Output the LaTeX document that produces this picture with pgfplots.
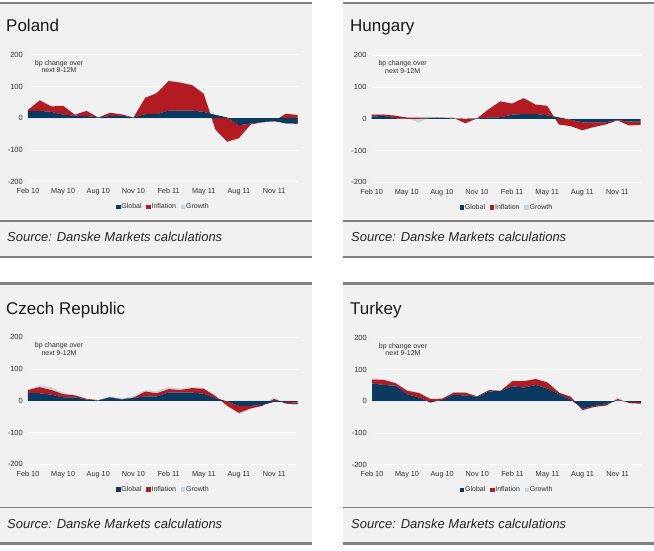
\documentclass[border=0pt]{standalone}
\usepackage{pgfplots}
\pgfplotsset{compat=1.18}
\usepackage{pgfplotstable}
\usepackage{fontspec}
\setmainfont{Liberation Sans}
\definecolor{navy}{HTML}{0A3A60}
\definecolor{dred}{HTML}{B31B22}
\definecolor{grow}{HTML}{C6D3E1}
\definecolor{panelbg}{HTML}{F1F1F1}
\definecolor{linegray}{HTML}{808080}
\definecolor{tickc}{HTML}{2E2E2E}

\pgfplotstableread{
i G I Gr
0 23 3 2
1 23 33 3
2 20 17 2
3 11 28 1
4 8 3 1
5 7 16 1
6 2 0 0
7 7 10 1
8 8 4 1
9 2 0 0
10 13 51 1
11 13 66 1
12 24 93 3
13 24 88 2
14 24 80 1
15 20 57 1
16 10 -46 0
17 2 -76 0
18 -22 -41 0
19 -17 -3 0
20 -12 -1 0
21 -9 -1 1
22 -16 30 1
23 -17 27 1
}\poland

\pgfplotstableread{
i G I Gr
0 7 6 1
1 9 4 2
2 2 8 0
3 0 4 0
4 0 4 -16
5 2 2 2
6 3 0 2
7 1 2 0
8 0 -14 0
9 1 0 0
10 4 26 0
11 5 50 0
12 13 35 0
13 15 50 0
14 15 30 0
15 11 30 0
16 4 -22 0
17 -3 -20 0
18 -11 -25 0
19 -11 -15 0
20 -11 -7 0
21 -4 -1 1
22 -9 -12 0
23 -9 -10 0
}\hungary

\pgfplotstableread{
i G I Gr
0 24 10 2
1 24 19 6
2 19 15 8
3 11 10 5
4 11 6 2
5 4 2 1
6 1 1 0
7 11 0 3
8 4 1 3
9 9 1 4
10 14 15 5
11 14 10 6
12 26 11 6
13 26 8 5
14 26 14 3
15 22 16 2
16 8 7 0
17 -2 -14 0
18 -16 -22 -5
19 -16 -8 -2
20 -13 -3 -1
21 -3 9 5
22 -4 -5 -1
23 -5 -6 -1
}\czech

\pgfplotstableread{
i G I Gr
0 56 12 4
1 51 16 2
2 49 8 2
3 22 11 2
4 12 14 1
5 -4 11 0
6 5 3 0
7 20 7 2
8 18 9 0
9 14 1 1
10 31 4 2
11 32 1 0
12 47 16 2
13 43 20 0
14 51 19 2
15 40 19 0
16 22 5 2
17 5 9 0
18 -23 -5 -2
19 -15 -3 0
20 -10 -4 0
21 3 4 5
22 -3 -3 0
23 -3 -5 -2
}\turkey

\pgfplotsset{
  legend image code/.code={\fill[#1] (0pt,-2.3pt) rectangle (4.6pt,2.5pt);},
  panel/.style={
    scale only axis, width=269.5pt, height=127pt,
    xmin=0, xmax=23, ymin=-200, ymax=200,
    stack plots=y,
    axis line style={draw=none}, tick style={draw=none},
    ytick={-200,-100,0,100,200},
    yticklabels={-200,-100,0,100,200},
    yticklabel style={font=\fontsize{7.5}{8}\selectfont, text=tickc, inner sep=0pt, xshift=-5pt},
    xtick={0,3,6,9,12,15,18,21},
    xticklabels={Feb 10, May 10, Aug 10, Nov 10, Feb 11, May 11, Aug 11, Nov 11},
    xticklabel style={font=\fontsize{7.3}{8}\selectfont, text=tickc, inner sep=0pt, anchor=base, yshift=-12.2pt},
    ymajorgrids, major grid style={white, line width=0.9pt},
    legend style={at={(0.5,-0.2)}, anchor=center, draw=none, fill=none,
      legend columns=3, font=\fontsize{7}{8}\selectfont, text=tickc,
      /tikz/every even column/.append style={column sep=4pt},
      nodes={inner sep=0.7pt}},
  },
}

\newcommand{\panelplots}[1]{%
  \addplot[fill=navy, draw=none] table[x=i, y=G] {#1} \closedcycle;
  \addplot[fill=dred, draw=none] table[x=i, y=I] {#1} \closedcycle;
  \addplot[fill=grow, draw=none] table[x=i, y=Gr] {#1} \closedcycle;
  \legend{Global, Inflation, Growth}
  \draw[white, line width=0.9pt] (axis cs:0,0) -- (axis cs:23,0);
  \node[font=\fontsize{7}{7.8}\selectfont, align=center, text=tickc, inner sep=0pt] at (axis cs:2.65,163) {bp change over\\next 9-12M};
}

\begin{document}
\begin{tikzpicture}
\useasboundingbox (0pt,0pt) rectangle (654pt,550pt);
% backgrounds
\fill[panelbg] (0pt,546pt) rectangle (312pt,293pt);
\fill[panelbg] (343pt,546pt) rectangle (654pt,293pt);
\fill[panelbg] (0pt,265pt) rectangle (312pt,7pt);
\fill[panelbg] (343pt,265pt) rectangle (654pt,7pt);
% top row lines
\draw[linegray, line width=2.4pt] (0pt,547.2pt) -- (312pt,547.2pt);
\draw[linegray, line width=2.4pt] (343pt,547.2pt) -- (654pt,547.2pt);
\draw[linegray, line width=1.2pt] (0pt,329pt) -- (312pt,329pt);
\draw[linegray, line width=1.2pt] (343pt,329pt) -- (654pt,329pt);
\draw[linegray, line width=2.2pt] (0pt,292.8pt) -- (312pt,292.8pt);
\draw[linegray, line width=2.2pt] (343pt,292.8pt) -- (654pt,292.8pt);
% bottom row lines
\draw[linegray, line width=2.4pt] (0pt,266.4pt) -- (312pt,266.4pt);
\draw[linegray, line width=2.4pt] (343pt,266.4pt) -- (654pt,266.4pt);
\draw[linegray, line width=1.2pt] (0pt,42.8pt) -- (312pt,42.8pt);
\draw[linegray, line width=1.2pt] (343pt,42.8pt) -- (654pt,42.8pt);
\draw[linegray, line width=2.2pt] (0pt,6.5pt) -- (312pt,6.5pt);
\draw[linegray, line width=2.2pt] (343pt,6.5pt) -- (654pt,6.5pt);
% titles
\node[anchor=base west, inner sep=0pt, font=\fontsize{17}{18}\selectfont, text=black!90] at (6pt,518pt) {Poland};
\node[anchor=base west, inner sep=0pt, font=\fontsize{17}{18}\selectfont, text=black!90] at (350pt,518pt) {Hungary};
\node[anchor=base west, inner sep=0pt, font=\fontsize{17}{18}\selectfont, text=black!90] at (6pt,236pt) {Czech Republic};
\node[anchor=base west, inner sep=0pt, font=\fontsize{17}{18}\selectfont, text=black!90] at (350pt,236pt) {Turkey};
% sources
\node[anchor=base west, inner sep=0pt, font=\fontsize{13}{14}\selectfont\itshape, text=black!85] at (7pt,308pt) {Source: Danske Markets calculations};
\node[anchor=base west, inner sep=0pt, font=\fontsize{13}{14}\selectfont\itshape, text=black!85] at (351pt,308pt) {Source: Danske Markets calculations};
\node[anchor=base west, inner sep=0pt, font=\fontsize{13}{14}\selectfont\itshape, text=black!85] at (7pt,22pt) {Source: Danske Markets calculations};
\node[anchor=base west, inner sep=0pt, font=\fontsize{13}{14}\selectfont\itshape, text=black!85] at (351pt,22pt) {Source: Danske Markets calculations};

\begin{axis}[panel, at={(28pt,368.3pt)}, anchor=south west]
\panelplots{\poland}
\end{axis}
\begin{axis}[panel, at={(371.7pt,367.7pt)}, anchor=south west, width=269pt]
\panelplots{\hungary}
\end{axis}
\begin{axis}[panel, at={(28pt,85.7pt)}, anchor=south west]
\panelplots{\czech}
\end{axis}
\begin{axis}[panel, at={(372pt,85.3pt)}, anchor=south west, width=269pt]
\panelplots{\turkey}
\end{axis}
\end{tikzpicture}
\end{document}
